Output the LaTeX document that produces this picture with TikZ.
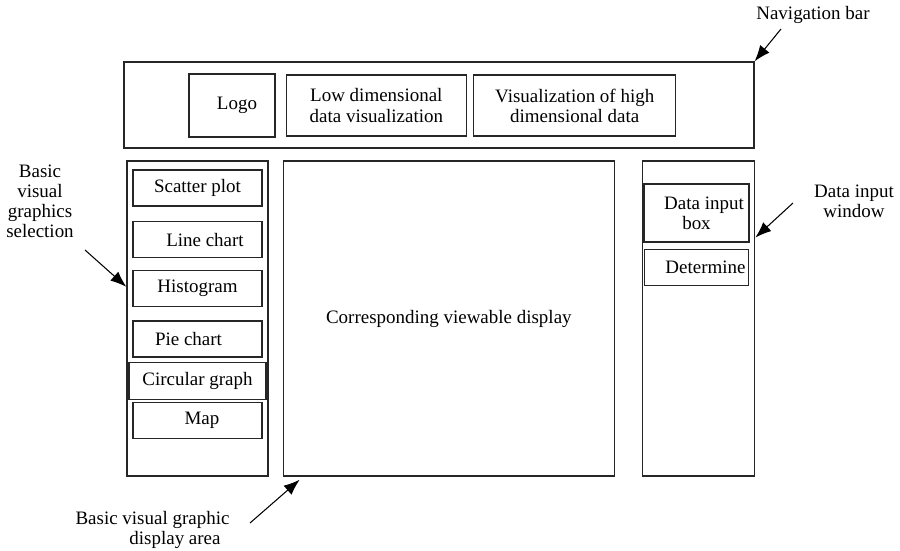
\documentclass[tikz,border=0pt]{standalone}
\usepackage{fontspec}
\setmainfont{Liberation Serif}
\usetikzlibrary{arrows.meta, positioning}

\begin{document}
\begin{tikzpicture}[x=0.02cm, y=-0.02cm, >={Latex[length=3.2mm, width=2.4mm]},
		font=\fontsize{10.8}{11.4}\selectfont,
		box/.style={rectangle, draw=black!85, line width=0.8pt, align=center, inner sep=0pt},
		btn/.style={box, minimum width=2.58cm, minimum height=0.72cm},
		note/.style={align=center, inner sep=0pt},
		pointer/.style={->, line width=0.6pt}]
		
		\useasboundingbox (0,0) rectangle (900,551);
		
		\node[box, minimum width=12.6cm, minimum height=1.72cm] (navbar) at (439,105) {};
		\node[box, minimum width=1.72cm, minimum height=1.26cm] (logo) at (232,105.5) {\hspace*{0.2cm}Logo};
		\node[box, minimum width=3.6cm, minimum height=1.22cm, right=0.2cm of logo] (lowdim) {Low dimensional\\data visualization};
		\node[box, minimum width=4.04cm, minimum height=1.22cm, right=0.12cm of lowdim] (highdim) {Visualization of high\\dimensional data};
		
		\node[box, minimum width=2.82cm, minimum height=6.3cm] (selpanel) at (197.5,318.5) {};
		\node[box, minimum width=6.62cm, minimum height=6.3cm, right=0.28cm of selpanel] (display) {Corresponding viewable display};
		\node[box, minimum width=2.24cm, minimum height=6.3cm, right=0.54cm of display] (inpanel) {};
		
		\node[btn] (scatter) at (197.5,188) {Scatter plot};
		\node[btn, below=0.285cm of scatter] (line) {\hspace*{0.3cm}Line chart};
		\node[btn, below=0.225cm of line] (hist) {Histogram};
		\node[btn, below=0.265cm of hist] (pie) {Pie chart\hspace*{0.36cm}};
		\node[btn, minimum width=2.74cm, minimum height=0.74cm, below=0.085cm of pie] (circ) {Circular graph};
		\node[btn, below=0.03cm of circ] (map) {\hspace*{0.18cm}Map};
		
		\node[btn, minimum width=2.1cm, minimum height=1.16cm] (inbox) at (696.5,213) {\hspace*{0.3cm}Data input\\box};
		\node[btn, minimum width=2.08cm, below=0.125cm of inbox] (determine) {\hspace*{0.36cm}Determine};
		
		\node[note] (navlbl) at (813,15) {Navigation bar};
		\node[note] (sellbl) at (40,201) {Basic\\visual\\graphics\\selection};
		\node[note] (displbl) at (152.5,529.5) {Basic visual graphic\\\hspace*{0.9cm}display area};
		\node[note] (inlbl) at (854,201.5) {Data input\\window};
		
		\coordinate (navtail) at (781,29);
		\coordinate (seltail) at (85,250);
		\coordinate (disptail) at (250,523);
		\coordinate (intail) at (793,203);
		
		\draw[pointer] (navtail) -- (navbar.north east);
		\draw[pointer] (seltail) -- (selpanel.156);
		\draw[pointer] (disptail) -- ([shift={(17,3)}]display.south west);
		\draw[pointer] (intail) -- (inpanel.55);
	\end{tikzpicture}
\end{document}
